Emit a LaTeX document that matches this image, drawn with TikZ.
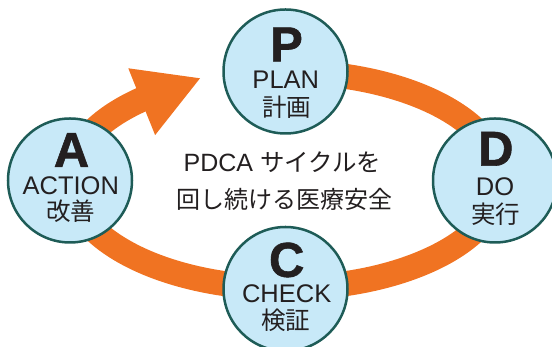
\documentclass[tikz,border=0pt]{standalone}
\usepackage{fontspec}
\setmainfont{Liberation Sans}
\newfontfamily\jpfont{Noto Sans CJK JP}
\newfontfamily\heavyfont[FakeBold=1.2]{Liberation Sans Bold}
\usetikzlibrary{calc}
\definecolor{pdcaorange}{HTML}{F07322}
\definecolor{pdcafill}{HTML}{C8E9F8}
\definecolor{pdcaedge}{HTML}{1E5C57}
\definecolor{pdcatext}{HTML}{231F20}
\begin{document}
\begin{tikzpicture}[x=1pt,y=1pt,line cap=butt,
  stage/.style={circle,minimum size=124pt,inner sep=0pt,fill=pdcafill,draw=pdcaedge,line width=2.5pt},
  bigletter/.style={text=pdcatext,font=\heavyfont\fontsize{49}{49}\selectfont,inner sep=0pt},
  engl/.style={text=pdcatext,font=\fontsize{25.5}{25.5}\selectfont,inner sep=0pt},
  jpn/.style={text=pdcatext,font=\jpfont\fontsize{24.5}{24.5}\selectfont,inner sep=0pt},
  centretext/.style={text=pdcatext,font=\fontsize{25}{25}\selectfont,inner sep=0pt,anchor=base},
  band/.style={draw=pdcaorange,line width=25pt}]
\useasboundingbox (0,0) rectangle (552,347);
\coordinate (E) at (285,167);
% orange cycle band
\draw[band] ($(E)+(130:215 and 108)$) arc[start angle=130,end angle=450,x radius=215,y radius=108];
% arrow head (A -> P)
\coordinate (hb) at (141.7,245.3);
\coordinate (ht) at (200,268.7);
\fill[pdcaorange] (ht) -- ($(hb)!36pt!90:(ht)$) -- ($(hb)!36pt!-90:(ht)$) -- cycle;
% stages
\node[stage] (P) at (285.5,275.5) {};
\node[stage] (A) at (70,166.5) {};
\node[stage] (D) at (495,166.5) {};
\node[stage] (C) at (285.5,58) {};
% labels
\node[bigletter] (Pl) at (286.5,302.5) {P};
\node[engl] (Pe) at (285.8,267) {PLAN};
\node[jpn] (Pj) at (286.5,240) {計画};
\node[bigletter] (Al) at (71.5,197) {A};
\node[engl] (Ae) at (70.8,161) {ACTION};
\node[jpn] (Aj) at (70.8,135.3) {改善};
\node[bigletter] (Dl) at (495.8,198.2) {D};
\node[engl] (De) at (495,160.3) {DO};
\node[jpn] (Dj) at (495.8,133) {実行};
\node[bigletter] (Cl) at (286.7,87) {C};
\node[engl] (Ce) at (286.7,53) {CHECK};
\node[jpn] (Cj) at (285.8,27) {検証};
% centre text
\node[centretext] (t1) at (282.5,175.3) {PDCA {\jpfont\fontsize{24.5}{24.5}\selectfont サイクルを}};
\node[centretext] (t2) at (284.5,138.6) {\jpfont\fontsize{24}{24}\selectfont 回し続ける医療安全};
\end{tikzpicture}
\end{document}
